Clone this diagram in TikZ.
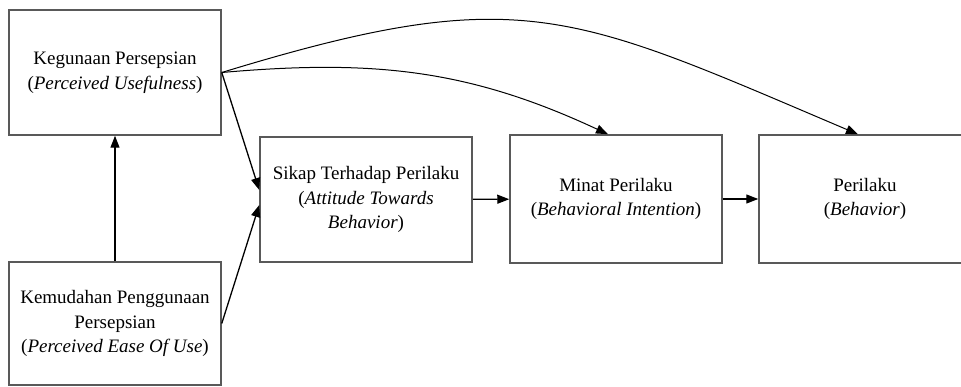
\documentclass[tikz,border=0pt]{standalone}
\usepackage{fontspec}
\setmainfont{Liberation Serif}
\usetikzlibrary{arrows.meta}

\begin{document}
\begin{tikzpicture}[x=1pt,y=-1pt,
	box/.style={draw=black!65,line width=1.5pt,minimum width=212pt,align=center,font=\fontsize{19}{24.5}\selectfont},
	arr/.style={line width=1.3pt,-{Triangle[length=12pt,width=9pt]}}]
	\useasboundingbox (0,0) rectangle (961,387);
	\clip (0,0) rectangle (961,387);
	% boxes
	\node[box,minimum height=125pt] (guna) at (115,72.5) {Kegunaan Persepsian\\(\textit{Perceived Usefulness})};
	\node[box,minimum height=123pt] (mudah) at (115,323.5) {Kemudahan Penggunaan\\Persepsian\\(\textit{Perceived Ease Of Use})};
	\node[box,minimum height=125pt] (sikap) at (366,199.5) {Sikap Terhadap Perilaku\\(\textit{Attitude Towards}\\\textit{Behavior})};
	\node[box,minimum height=128pt] (minat) at (616,199) {Minat Perilaku\\(\textit{Behavioral Intention})};
	\node[box,minimum height=128pt] (laku) at (865,199) {Perilaku\\(\textit{Behavior})};
	% arrows
	\draw[arr] (mudah) -- (guna);
	\draw[arr] (guna.east) -- ([yshift=9.5pt]sikap.west);
	\draw[arr] (mudah.east) -- ([yshift=-5.5pt]sikap.west);
	\draw[arr] (sikap) -- (minat);
	\draw[arr] (minat) -- (laku);
	\draw[arr,line width=1pt] (guna.east) to[out=5,in=155] ([xshift=-8pt]minat.north);
	\draw[arr,line width=1pt] (guna.east) to[out=17,in=157,looseness=1.25] ([xshift=-7pt]laku.north);
\end{tikzpicture}
\end{document}
